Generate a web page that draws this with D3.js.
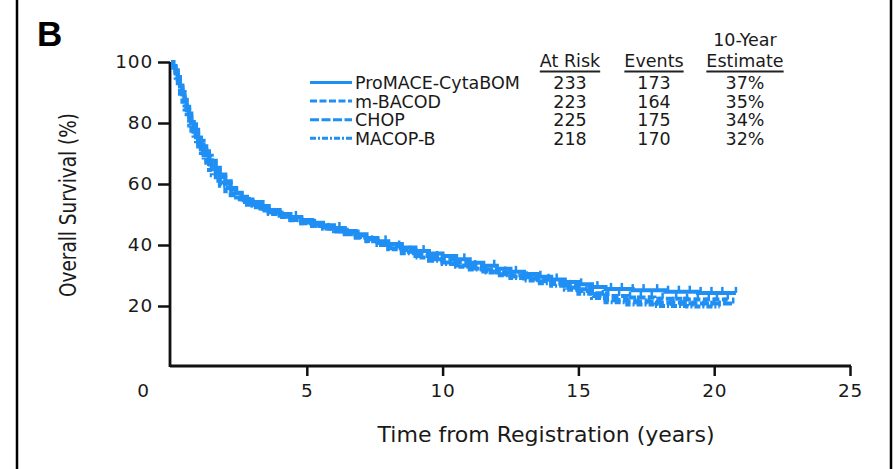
<!DOCTYPE html>
<html>
<head>
<meta charset="utf-8">
<script src="https://cdn.jsdelivr.net/npm/d3@7"></script>
<style>
  body { margin: 0; background: #fff; }
  svg text { font-family: "DejaVu Sans", sans-serif; fill: #1a1a1a; }
</style>
</head>
<body>
<svg id="chart" width="894" height="469"></svg>
<script>
'use strict';

// legend table
const seriesNames = ['ProMACE-CytaBOM', 'm-BACOD', 'CHOP', 'MACOP-B'];
const atRisk = [233, 223, 225, 218];
const events = [173, 164, 175, 170];
const estimates = ['37%', '35%', '34%', '32%'];

const xTicks = [0, 5, 10, 15, 20, 25];
const yTicks = [20, 40, 60, 80, 100];

// survival curves: [years, % surviving]
const survProMACE = [[0,100],[0.08,98.3],[0.17,96.6],[0.25,94.4],[0.33,92.3],[0.42,89.7],[0.5,87.1],[0.58,84.5],[0.67,82.0],[0.75,80.3],[0.83,78.5],[0.92,76.8],[1.0,75.1],[1.1,73.0],[1.2,71.2],[1.3,69.5],[1.4,67.8],[1.5,66.1],[1.65,64.0],[1.8,62.2],[2.0,60.1],[2.2,58.4],[2.4,57.1],[2.6,55.8],[2.8,54.9],[3.0,54.1],[3.3,52.8],[3.6,51.5],[4.0,50.2],[4.4,49.2],[4.8,48.2],[5.2,47.3],[5.6,46.5],[6.0,45.6],[6.4,44.6],[6.8,43.5],[7.2,42.3],[7.6,41.2],[8.0,40.3],[8.5,39.2],[9.0,38.0],[9.5,37.2],[10.0,36.4],[10.5,35.3],[11.0,34.2],[11.5,33.2],[12.0,32.2],[12.5,31.2],[13.0,30.5],[13.5,29.6],[14.0,28.7],[14.5,27.9],[15.0,27.1],[15.5,26.2],[16.0,25.6],[17.0,25.2],[18.2,24.7],[19.4,24.3],[20.8,24.3]];
const survMBACOD = [[0,100],[0.08,97.8],[0.17,95.5],[0.25,93.3],[0.33,91.0],[0.42,88.3],[0.5,85.7],[0.58,83.0],[0.67,80.7],[0.75,78.9],[0.83,77.1],[0.92,75.3],[1.0,73.5],[1.1,71.3],[1.2,69.5],[1.3,67.7],[1.4,66.0],[1.5,64.2],[1.65,62.3],[1.8,60.5],[2.0,58.7],[2.2,57.0],[2.4,55.6],[2.6,54.7],[2.8,53.8],[3.0,52.9],[3.3,51.8],[3.6,50.7],[4.0,49.6],[4.4,48.6],[4.8,47.5],[5.2,46.6],[5.6,45.8],[6.0,45.0],[6.4,44.2],[6.8,43.1],[7.2,41.9],[7.6,40.6],[8.0,39.5],[8.5,38.4],[9.0,37.2],[9.5,36.1],[10.0,35.2],[10.5,34.2],[11.0,33.1],[11.5,32.0],[12.0,31.0],[12.5,30.1],[13.0,29.4],[13.5,28.6],[14.0,27.7],[14.5,26.6],[15.0,25.5],[15.5,24.2],[16.0,23.3],[16.8,22.8],[17.8,22.4],[19.0,22.1],[20.5,22.1]];
const survCHOP = [[0,100],[0.08,98.7],[0.17,97.3],[0.25,95.1],[0.33,92.9],[0.42,90.2],[0.5,87.6],[0.58,85.3],[0.67,83.1],[0.75,81.3],[0.83,79.6],[0.92,77.8],[1.0,76.0],[1.1,74.2],[1.2,72.4],[1.3,70.7],[1.4,69.3],[1.5,67.6],[1.65,65.3],[1.8,63.1],[2.0,60.9],[2.2,58.7],[2.4,57.0],[2.6,55.7],[2.8,54.4],[3.0,53.3],[3.3,52.0],[3.6,50.7],[4.0,49.3],[4.4,48.2],[4.8,47.1],[5.2,46.2],[5.6,45.3],[6.0,44.4],[6.4,43.5],[6.8,42.4],[7.2,41.2],[7.6,40.0],[8.0,38.9],[8.5,37.8],[9.0,36.4],[9.5,35.3],[10.0,34.3],[10.5,33.3],[11.0,32.3],[11.5,31.3],[12.0,30.4],[12.5,29.7],[13.0,29.0],[13.5,28.1],[14.0,27.2],[14.5,26.1],[15.0,24.9],[15.5,23.3],[16.0,22.0],[16.8,21.5],[17.8,21.1],[19.0,20.8],[20.7,20.8]];
const survMACOPB = [[0,100],[0.08,97.2],[0.17,94.8],[0.25,92.2],[0.33,89.6],[0.42,87.0],[0.5,84.4],[0.58,81.8],[0.67,79.2],[0.75,77.5],[0.83,75.8],[0.92,74.0],[1.0,72.3],[1.1,70.2],[1.2,68.0],[1.3,66.3],[1.4,64.6],[1.5,62.9],[1.65,61.1],[1.8,59.4],[2.0,57.6],[2.2,56.3],[2.4,55.0],[2.6,54.1],[2.8,53.2],[3.0,52.4],[3.3,51.3],[3.6,50.2],[4.0,49.2],[4.4,48.1],[4.8,47.1],[5.2,46.2],[5.6,45.4],[6.0,44.5],[6.4,43.7],[6.8,42.6],[7.2,41.3],[7.6,40.0],[8.0,38.6],[8.5,37.3],[9.0,35.9],[9.5,34.8],[10.0,33.8],[10.5,32.9],[11.0,32.0],[11.5,31.0],[12.0,30.1],[12.5,29.2],[13.0,28.4],[13.5,27.5],[14.0,26.6],[14.5,25.3],[15.0,24.0],[15.5,22.6],[16.0,21.2],[16.8,20.5],[17.8,20.0],[19.0,19.8],[20.2,19.8]];

// censoring marks (years)
const censorProMACE = [3.4,4.6,6.2,7.9,9.3,10.8,11.9,12.7,13.6,14.2,15.1,15.7,16.2,16.6,17.0,17.4,17.9,18.3,18.7,19.1,19.5,19.9,20.3,20.8];
const censorMBACOD = [2.9,5.3,6.9,8.4,9.8,11.2,12.3,13.1,13.9,14.7,15.4,16.1,16.5,16.9,17.3,17.7,18.1,18.6,19.0,19.4,19.8,20.1,20.5];
const censorCHOP = [4.1,5.8,7.4,8.8,10.3,11.6,12.5,13.3,14.4,15.3,15.9,16.4,16.8,17.2,17.6,18.0,18.5,18.9,19.3,19.7,20.0,20.4,20.7];
const censorMACOPB = [3.8,6.5,8.1,9.6,11.0,12.1,13.4,14.0,14.9,15.6,16.3,16.7,17.1,17.5,17.9,18.4,18.8,19.2,19.6,19.9,20.2];

const curves = [survProMACE, survMBACOD, survCHOP, survMACOPB];
const censors = [censorProMACE, censorMBACOD, censorCHOP, censorMACOPB];
const dashStyles = [null, '7,2.5', '9,2.5', '6,2,2,2'];
const blue = '#1f8ff4';

const svg = d3.select('#chart');

const x = d3.scaleLinear().domain([0, 25]).range([171, 850]);
const y = d3.scaleLinear().domain([0, 100]).range([367, 62]);

// frame lines left/right
svg.append('line').attr('x1', 17).attr('x2', 17).attr('y1', 0).attr('y2', 469)
  .attr('stroke', '#000').attr('stroke-width', 2.5);
svg.append('line').attr('x1', 891).attr('x2', 891).attr('y1', 0).attr('y2', 469)
  .attr('stroke', '#000').attr('stroke-width', 2.5);

svg.append('text').attr('x', 37).attr('y', 46)
  .style('font-family', '"Liberation Sans", Arial, sans-serif')
  .style('font-weight', 'bold').style('font-size', '35px').style('fill', '#000')
  .text('B');

// y axis
const yAxis = svg.append('g')
  .attr('transform', 'translate(170,0)')
  .call(d3.axisLeft(y).tickValues(yTicks).tickSize(12).tickPadding(5));
yAxis.select('.domain').attr('d', `M0,${y(100)}V${y(0)}`);

// x axis
const xAxis = svg.append('g')
  .attr('transform', 'translate(0,366)')
  .call(d3.axisBottom(x).tickValues(xTicks).tickSize(10).tickPadding(8));
xAxis.select('.domain').attr('d', `M170,0H${x(25) + 1}`);
xAxis.selectAll('.tick').filter(d => d === 0).select('line').remove();
xAxis.selectAll('.tick').filter(d => d === 0).select('text').attr('x', -28);

[yAxis, xAxis].forEach(ax => {
  ax.selectAll('.domain').attr('stroke', '#111').attr('stroke-width', 2.8);
  ax.selectAll('.tick line').attr('stroke', '#111').attr('stroke-width', 2.5);
  ax.selectAll('.tick text')
    .style('font-family', '"DejaVu Sans", sans-serif')
    .style('font-size', '18.5px')
    .style('letter-spacing', '0.8px')
    .attr('fill', '#1a1a1a');
});

// axis titles
svg.append('text')
  .attr('transform', 'translate(76,205) rotate(-90)')
  .attr('text-anchor', 'middle')
  .attr('textLength', 184).attr('lengthAdjust', 'spacingAndGlyphs')
  .style('font-family', '"Liberation Sans Narrow", "DejaVu Sans Condensed", "Liberation Sans", sans-serif')
  .style('font-size', '23px')
  .text('Overall Survival (%)');

svg.append('text')
  .attr('x', 546).attr('y', 442)
  .attr('text-anchor', 'middle')
  .attr('textLength', 337).attr('lengthAdjust', 'spacingAndGlyphs')
  .style('font-size', '21.5px')
  .text('Time from Registration (years)');

// curves
const line = d3.line()
  .x(d => x(d[0]))
  .y(d => y(d[1]))
  .curve(d3.curveStepAfter);

const plot = svg.append('g');
curves.forEach((c, i) => {
  plot.append('path')
    .datum(c)
    .attr('d', line)
    .attr('fill', 'none')
    .attr('stroke', blue)
    .attr('stroke-width', 4)
    .attr('stroke-dasharray', dashStyles[i]);

  const stepAt = t => {
    let v = c[0][1];
    c.forEach(p => { if (p[0] <= t) v = p[1]; });
    return v;
  };
  plot.selectAll(null)
    .data(censors[i])
    .join('line')
    .attr('x1', d => x(d)).attr('x2', d => x(d))
    .attr('y1', d => y(stepAt(d)))
    .attr('y2', d => y(stepAt(d)) - 6)
    .attr('stroke', blue)
    .attr('stroke-width', 2.5);
});

// legend table
const rowY = i => 89 + i * 18.6;
const cols = [570, 654, 745];
const legend = svg.append('g').style('font-size', '17.5px');

legend.append('text').attr('x', cols[2]).attr('y', 46).attr('text-anchor', 'middle').text('10-Year');
[['At Risk', cols[0]], ['Events', cols[1]], ['Estimate', cols[2]]].forEach(([label, cx]) => {
  const t = legend.append('text').attr('x', cx).attr('y', 67).attr('text-anchor', 'middle').text(label);
  const w = t.node().getComputedTextLength();
  legend.append('line')
    .attr('x1', cx - w / 2).attr('x2', cx + w / 2)
    .attr('y1', 71.5).attr('y2', 71.5)
    .attr('stroke', '#222').attr('stroke-width', 2);
});

seriesNames.forEach((name, i) => {
  legend.append('line')
    .attr('x1', 310).attr('x2', 352)
    .attr('y1', rowY(i) - 6.5).attr('y2', rowY(i) - 6.5)
    .attr('stroke', blue).attr('stroke-width', 3)
    .attr('stroke-dasharray', dashStyles[i]);
  legend.append('text').attr('x', 355).attr('y', rowY(i)).text(name);
  legend.append('text').attr('x', cols[0]).attr('y', rowY(i)).attr('text-anchor', 'middle').text(atRisk[i]);
  legend.append('text').attr('x', cols[1]).attr('y', rowY(i)).attr('text-anchor', 'middle').text(events[i]);
  legend.append('text').attr('x', cols[2]).attr('y', rowY(i)).attr('text-anchor', 'middle').text(estimates[i]);
});
</script>
</body>
</html>
